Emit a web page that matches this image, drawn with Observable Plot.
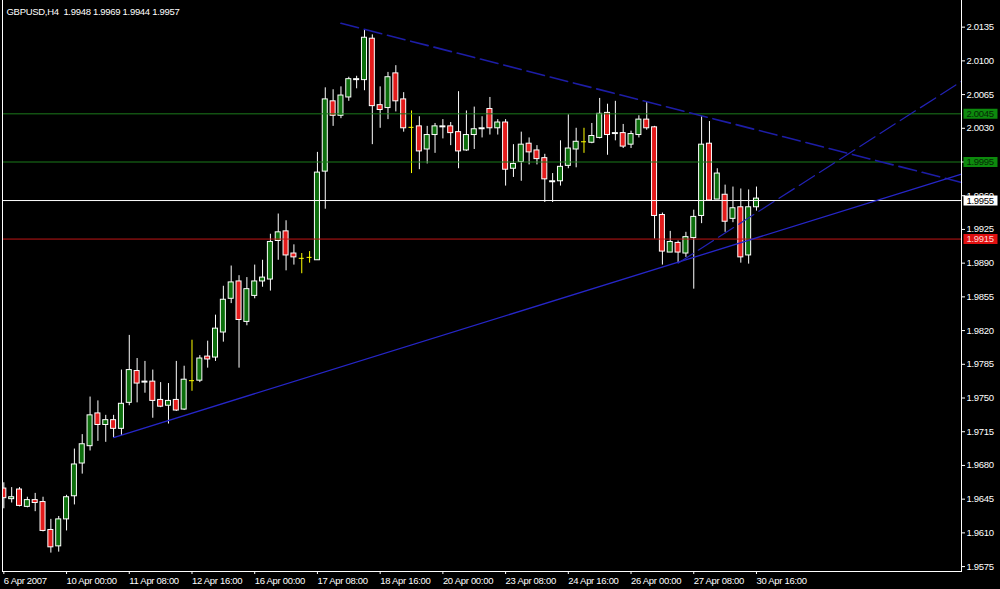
<!DOCTYPE html>
<html>
<head>
<meta charset="utf-8">
<script src="https://cdn.jsdelivr.net/npm/d3@7"></script>
<script src="https://cdn.jsdelivr.net/npm/@observablehq/plot@0.6"></script>
<style>
  html, body { margin: 0; padding: 0; background: #000; overflow: hidden; }
</style>
</head>
<body>
<div id="chart"></div>
<script>
// GBPUSD H4 bars, oldest first (bar index = position in the arrays)
const opens = [
  1.9656, 1.9645, 1.9655, 1.9637, 1.9644, 1.9642, 1.9613, 1.9596, 1.9624, 1.9648,
  1.9682, 1.9700, 1.9734, 1.9722, 1.9727, 1.9718, 1.9745, 1.9778, 1.9766, 1.9767,
  1.9748, 1.9742, 1.9748, 1.9738, 1.9768, 1.9768, 1.9793, 1.9792, 1.9818, 1.9853,
  1.9871, 1.9829, 1.9856, 1.9871, 1.9873, 1.9913, 1.9923, 1.9900, 1.9895, 1.9896,
  1.9893, 1.9985, 2.0058, 2.0043, 2.0062, 2.0080, 2.0080, 2.0123, 2.0054, 2.0051,
  2.0087, 2.0060, 2.0031, 2.0032, 2.0008, 2.0023, 2.0031, 2.0032, 2.0026, 2.0007,
  2.0023, 2.0029, 2.0050, 2.0030, 2.0036, 1.9988, 1.9995, 2.0014, 2.0007, 1.9999,
  1.9974, 1.9975, 1.9991, 2.0008, 2.0016, 2.0015, 2.0020, 2.0046, 2.0024, 2.0025,
  2.0013, 2.0023, 2.0039, 2.0031, 1.9940, 1.9901, 1.9911, 1.9900, 1.9916, 1.9939,
  2.0014, 1.9956, 1.9961, 1.9936, 1.9948, 1.9898, 1.9948
];
const highs = [
  1.9662, 1.9657, 1.9657, 1.9647, 1.9651, 1.9647, 1.9624, 1.9627, 1.9649, 1.9697,
  1.9712, 1.9751, 1.9747, 1.9732, 1.9732, 1.9779, 1.9815, 1.9791, 1.9788, 1.9779,
  1.9766, 1.9765, 1.9788, 1.9783, 1.9810, 1.9794, 1.9809, 1.9836, 1.9866, 1.9887,
  1.9877, 1.9875, 1.9888, 1.9893, 1.9920, 1.9941, 1.9934, 1.9909, 1.9900, 1.9902,
  2.0005, 2.0072, 2.0070, 2.0073, 2.0083, 2.0084, 2.0132, 2.0127, 2.0073, 2.0088,
  2.0095, 2.0067, 2.0048, 2.0042, 2.0032, 2.0035, 2.0039, 2.0036, 2.0068, 2.0048,
  2.0052, 2.0042, 2.0062, 2.0039, 2.0039, 2.0013, 2.0026, 2.0020, 2.0012, 2.0003,
  1.9983, 2.0017, 2.0044, 2.0030, 2.0030, 2.0035, 2.0061, 2.0055, 2.0058, 2.0034,
  2.0027, 2.0043, 2.0057, 2.0032, 1.9942, 1.9923, 1.9913, 1.9922, 1.9945, 2.0042,
  2.0037, 1.9988, 1.9971, 1.9969, 1.9967, 1.9966, 1.9969
];
const lows = [
  1.9635, 1.9641, 1.9637, 1.9636, 1.9632, 1.9611, 1.9589, 1.9590, 1.9612, 1.9639,
  1.9671, 1.9695, 1.9705, 1.9704, 1.9709, 1.9711, 1.9742, 1.9745, 1.9755, 1.9729,
  1.9740, 1.9723, 1.9736, 1.9737, 1.9757, 1.9766, 1.9781, 1.9788, 1.9808, 1.9848,
  1.9781, 1.9825, 1.9853, 1.9865, 1.9861, 1.9893, 1.9882, 1.9888, 1.9879, 1.9890,
  1.9893, 1.9946, 2.0032, 2.0040, 2.0058, 2.0071, 2.0069, 2.0013, 2.0030, 2.0039,
  2.0047, 2.0026, 1.9983, 1.9987, 1.9993, 2.0004, 2.0019, 2.0012, 1.9988, 2.0006,
  2.0008, 2.0020, 2.0023, 2.0023, 1.9970, 1.9979, 1.9975, 1.9992, 1.9992, 1.9953,
  1.9953, 1.9970, 1.9988, 1.9989, 2.0004, 2.0014, 2.0019, 2.0002, 2.0017, 2.0009,
  2.0009, 2.0020, 2.0028, 1.9915, 1.9888, 1.9901, 1.9890, 1.9896, 1.9863, 1.9931,
  1.9954, 1.9956, 1.9922, 1.9932, 1.9890, 1.9889, 1.9944
];
const closes = [
  1.9646, 1.9647, 1.9638, 1.9644, 1.9641, 1.9612, 1.9595, 1.9624, 1.9647, 1.9681,
  1.9702, 1.9732, 1.9722, 1.9727, 1.9718, 1.9744, 1.9779, 1.9765, 1.9767, 1.9747,
  1.9741, 1.9747, 1.9737, 1.9769, 1.9768, 1.9791, 1.9790, 1.9822, 1.9852, 1.9870,
  1.9831, 1.9863, 1.9871, 1.9875, 1.9912, 1.9922, 1.9898, 1.9896, 1.9895, 1.9896,
  1.9984, 2.0060, 2.0043, 2.0064, 2.0081, 2.0081, 2.0124, 2.0053, 2.0049, 2.0083,
  2.0058, 2.0030, 2.0031, 2.0006, 2.0023, 2.0032, 2.0032, 2.0025, 2.0006, 2.0023,
  2.0029, 2.0030, 2.0030, 2.0036, 1.9987, 1.9993, 2.0013, 2.0005, 1.9998, 1.9977,
  1.9975, 1.9990, 2.0009, 2.0016, 2.0016, 2.0022, 2.0045, 2.0023, 2.0025, 2.0011,
  2.0024, 2.0039, 2.0030, 1.9939, 1.9902, 1.9912, 1.9901, 1.9917, 1.9938, 2.0013,
  1.9955, 1.9983, 1.9933, 1.9947, 1.9896, 1.9948, 1.9957
];

// Time axis: labelled bars and their captions
const timeTickBars = [0, 8, 16, 24, 32, 40, 48, 56, 64, 72, 80, 88, 96];
const timeTickLabels = [
  "6 Apr 2007", "10 Apr 00:00", "11 Apr 08:00", "12 Apr 16:00", "16 Apr 00:00",
  "17 Apr 08:00", "18 Apr 16:00", "20 Apr 00:00", "23 Apr 08:00", "24 Apr 16:00",
  "26 Apr 00:00", "27 Apr 08:00", "30 Apr 16:00"
];

// Price axis ticks
const priceTicks = [2.0135, 2.0100, 2.0065, 2.0030, 1.9995, 1.9960, 1.9925, 1.9890,
  1.9855, 1.9820, 1.9785, 1.9750, 1.9715, 1.9680, 1.9645, 1.9610, 1.9575];

// Horizontal price levels and their colours
const levelPrices = [2.0045, 1.9995, 1.9955, 1.9915];
const levelLineColors = ["#1b7a1b", "#1b7a1b", "#ffffff", "#c01616"];
const levelBoxColors = ["#0d8a0d", "#0d8a0d", "#ffffff", "#e01010"];
const levelTextColors = ["#062806", "#062806", "#000000", "#ffd6d6"];

// Trend lines: two anchors each (bar index, price), extended as rays to the right
const upperTrend = [[43, 2.0139], [89, 2.0043]];
const lowerTrend = [[14, 1.9709], [86, 1.9891]];
const steepTrend = [[86, 1.9890], [95, 1.9937]];

const symbolName = "GBPUSD,H4";
const lastQuote = [1.9948, 1.9969, 1.9944, 1.9957];

// ---------------------------------------------------------------------------
const xDomain = [-0.17, 122.15];
const yDomain = [1.95699, 2.01637];

const bars = opens.map((o, i) => ({i, o, h: highs[i], l: lows[i], c: closes[i]}));
const bodies = bars.filter(d => d.o !== d.c);
const dojis = bars.filter(d => d.o === d.c);

const ray = ([[x0, y0], [x1, y1]]) => {
  const m = (y1 - y0) / (x1 - x0);
  const xe = xDomain[1];
  return [{x: x0, y: y0}, {x: xe, y: y0 + m * (xe - x0)}];
};

const fmt = d3.format(".4f");
const bullFill = "#0c6e0c";
const bearFill = "#e31b1b";
const dojiColor = "#ffff00";
const half = 0.32;

// Label background box drawn to the right of the price frame
const boxSymbol = {draw(context) { context.rect(2, -5, 34, 10); }};

const chart = Plot.plot({
  width: 1000,
  height: 589,
  marginLeft: 2,
  marginRight: 39,
  marginTop: -1,      // frame top edge sits just above the canvas (open top)
  marginBottom: 18,
  style: {
    background: "#000",
    color: "#fff",
    fontFamily: "'Liberation Sans', Arial, sans-serif",
    fontSize: "9.5px",
    letterSpacing: "-0.3px"
  },
  x: {domain: xDomain, axis: null},
  y: {domain: yDomain, axis: null},
  color: {type: "identity"},
  marks: [
    // wicks
    Plot.ruleX(bodies, {x: "i", y1: "l", y2: "h", stroke: "#fff", clip: true}),
    Plot.ruleX(dojis, {x: "i", y1: "l", y2: "h", stroke: dojiColor}),
    Plot.ruleY(dojis, {y: "o", x1: d => d.i - half, x2: d => d.i + half, stroke: dojiColor}),
    // bodies
    Plot.rect(bodies, {
      x1: d => d.i - half, x2: d => d.i + half, y1: "o", y2: "c",
      fill: d => d.c > d.o ? bullFill : bearFill,
      stroke: "#fff", strokeWidth: 1, clip: true
    }),
    // horizontal levels
    Plot.ruleY(levelPrices, {y: d => d, stroke: (d, i) => levelLineColors[i]}),
    // trend lines
    Plot.line(ray(upperTrend), {x: "x", y: "y", stroke: "#1d1da6", strokeWidth: 1.6, strokeDasharray: "18,6"}),
    Plot.line(ray(lowerTrend), {x: "x", y: "y", stroke: "#2626c8", strokeWidth: 1.3}),
    Plot.line(ray(steepTrend), {x: "x", y: "y", stroke: "#2222b4", strokeWidth: 1.2, strokeDasharray: "18,6"}),
    // frame
    Plot.frame({stroke: "#fff"}),
    // axes
    Plot.axisY(priceTicks, {
      anchor: "right", tickSize: 3, tickPadding: 2, tickFormat: fmt
    }),
    Plot.axisX(timeTickBars, {
      anchor: "bottom", tickSize: 3, tickPadding: 3, textAnchor: "start",
      tickFormat: d => timeTickLabels[timeTickBars.indexOf(d)]
    }),
    // level price labels
    Plot.dot(levelPrices, {
      y: d => d, frameAnchor: "right", symbol: boxSymbol, r: 4,
      fill: (d, i) => levelBoxColors[i], stroke: null
    }),
    Plot.text(levelPrices, {
      y: d => d, frameAnchor: "right", dx: 5, textAnchor: "start",
      text: d => fmt(d), fill: (d, i) => levelTextColors[i]
    }),
    // symbol and last bar quote
    Plot.text([`${symbolName}  ${lastQuote.map(fmt).join(" ")}`], {
      frameAnchor: "top-left", dx: 4, dy: 9, textAnchor: "start", lineAnchor: "top",
      text: d => d, fill: "#fff"
    })
  ]
});

document.getElementById("chart").append(chart);
</script>
</body>
</html>
